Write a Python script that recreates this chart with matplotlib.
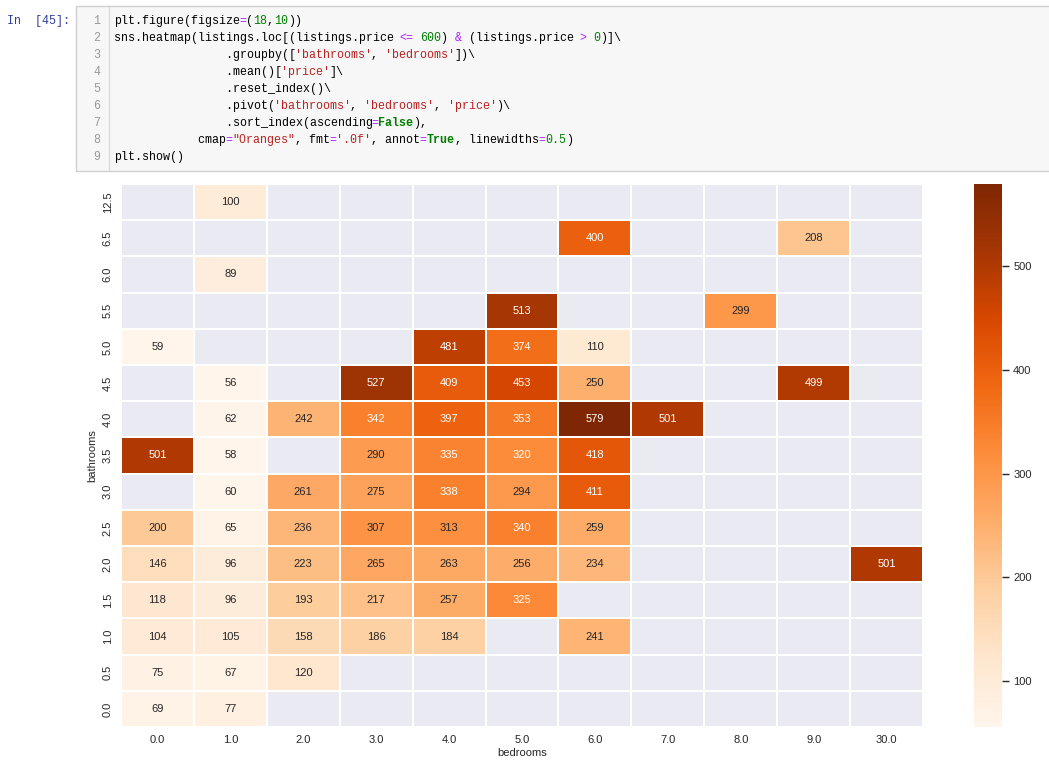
import re
import numpy as np
import pandas as pd
import matplotlib
matplotlib.use("Agg")
import matplotlib.pyplot as plt
from matplotlib.patches import Rectangle
import seaborn as sns

N = np.nan

bathrooms = [12.5, 6.5, 6.0, 5.5, 5.0, 4.5, 4.0, 3.5, 3.0, 2.5, 2.0, 1.5, 1.0, 0.5, 0.0]
bedrooms = [0.0, 1.0, 2.0, 3.0, 4.0, 5.0, 6.0, 7.0, 8.0, 9.0, 30.0]

# mean price, one row per bathrooms value (top to bottom), columns = bedrooms
mean_price = [
    [N, 100, N, N, N, N, N, N, N, N, N],
    [N, N, N, N, N, N, 400, N, N, 208, N],
    [N, 89, N, N, N, N, N, N, N, N, N],
    [N, N, N, N, N, 513, N, N, 299, N, N],
    [59, N, N, N, 481, 374, 110, N, N, N, N],
    [N, 56, N, 527, 409, 453, 250, N, N, 499, N],
    [N, 62, 242, 342, 397, 353, 579, 501, N, N, N],
    [501, 58, N, 290, 335, 320, 418, N, N, N, N],
    [N, 60, 261, 275, 338, 294, 411, N, N, N, N],
    [200, 65, 236, 307, 313, 340, 259, N, N, N, N],
    [146, 96, 223, 265, 263, 256, 234, N, N, N, 501],
    [118, 96, 193, 217, 257, 325, N, N, N, N, N],
    [104, 105, 158, 186, 184, N, 241, N, N, N, N],
    [75, 67, 120, N, N, N, N, N, N, N, N],
    [69, 77, N, N, N, N, N, N, N, N, N],
]

code_lines = [
    "plt.figure(figsize=(18,10))",
    "sns.heatmap(listings.loc[(listings.price <= 600) & (listings.price > 0)]\\",
    "                .groupby(['bathrooms', 'bedrooms'])\\",
    "                .mean()['price']\\",
    "                .reset_index()\\",
    "                .pivot('bathrooms', 'bedrooms', 'price')\\",
    "                .sort_index(ascending=False),",
    "            cmap=\"Oranges\", fmt='.0f', annot=True, linewidths=0.5)",
    "plt.show()",
]

W, H = 1049, 764
sns.set_theme()
plt.rcParams['font.family'] = ['Liberation Sans', 'DejaVu Sans']

fig = plt.figure(figsize=(W / 100, H / 100), dpi=100)


def px(x, y):
    return x / W, 1 - y / H


# notebook code cell
fig.patches.append(Rectangle(px(76, 171), (W - 76 + 5) / W, 165 / H,
                             transform=fig.transFigure, facecolor="#f7f7f7",
                             edgecolor="#cfcfcf", linewidth=1))
fig.add_artist(plt.Line2D([109 / W, 109 / W], [1 - 7 / H, 1 - 170 / H],
                          transform=fig.transFigure, color="#dddddd", lw=1))
mono = "Liberation Mono"
fs = 8.4
cw = 6.95
fig.text(*px(7, 21), "In  [45]:", family=mono, size=fs, color="#303f9f", va="center")

tok_re = re.compile(r"('[^']*'|\"[^\"]*\"|\bTrue\b|\bFalse\b|\d+(?:\.\d+)?|<=|[=<>&])")
for i, line in enumerate(code_lines):
    y = 21 + 17 * i
    fig.text(*px(97, y), str(i + 1), family=mono, size=fs, color="#999999",
             va="center", ha="center")
    pos = 0
    for part in tok_re.split(line):
        if not part:
            continue
        if part[0] in "'\"":
            color, weight = "#ba2121", "normal"
        elif part in ("True", "False"):
            color, weight = "#008000", "bold"
        elif part[0].isdigit():
            color, weight = "#008000", "normal"
        elif part in ("=", "<=", ">", "<", "&"):
            color, weight = "#aa22ff", "normal"
        else:
            color, weight = "black", "normal"
        if part.strip():
            fig.text(*px(114 + pos * cw, y), part, family=mono, size=fs,
                     color=color, weight=weight, va="center")
        pos += len(part)

# heatmap
df = pd.DataFrame(mean_price, index=pd.Index(bathrooms, name="bathrooms"),
                  columns=pd.Index(bedrooms, name="bedrooms"))

ax = fig.add_axes([121 / W, 1 - 727 / H, 802 / W, 543 / H])
cax = fig.add_axes([974 / W, 1 - 727 / H, 28 / W, 543 / H])
sns.heatmap(df, cmap="Oranges", fmt=".0f", annot=True, linewidths=1.1,
            ax=ax, cbar_ax=cax, annot_kws={"size": 8})
ax.grid(False)
ax.set_yticklabels([f"{v:.1f}" for v in bathrooms], rotation=90, va="center", size=8)
ax.set_xticklabels([f"{v:.1f}" for v in bedrooms], rotation=0, size=8)
ax.tick_params(length=0, pad=6)
ax.set_xlabel("bedrooms", size=8, labelpad=2)
ax.set_ylabel("bathrooms", size=8, labelpad=4)
cax.tick_params(right=True, length=5, width=1, color=".15", labelsize=8, pad=3)

fig.savefig("out.png", dpi=100)
